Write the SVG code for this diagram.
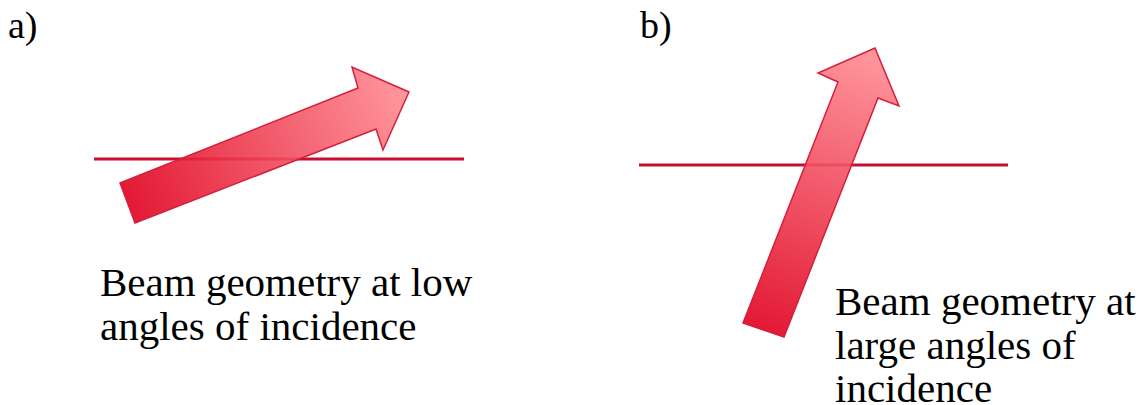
<svg xmlns="http://www.w3.org/2000/svg" width="1148" height="405" viewBox="0 0 1148 405">
<style>
.t{font-family:'Liberation Serif','Tinos','Times New Roman','DejaVu Serif',serif;font-size:41px;fill:#000}
.lbl{font-family:'Liberation Serif','Tinos','Times New Roman','DejaVu Serif',serif;font-size:38px;fill:#000}
.surf{stroke:#C8102E;stroke-width:3;fill:none}
.arr{stroke:#D41F3C;stroke-width:1.5;stroke-linejoin:miter;fill-opacity:0.9}
</style>
<defs>
<linearGradient id="ga" gradientUnits="userSpaceOnUse" x1="127" y1="203" x2="405" y2="95">
<stop offset="0" stop-color="#E0001E"/>
<stop offset="1" stop-color="#FF8A92"/>
</linearGradient>
<linearGradient id="gb" gradientUnits="userSpaceOnUse" x1="763" y1="330" x2="872" y2="55">
<stop offset="0" stop-color="#E0001E"/>
<stop offset="1" stop-color="#FF8A92"/>
</linearGradient>
</defs>
<g id="label-a"><text class="lbl" x="8" y="38" font-family="Liberation Serif, serif">a)</text></g>
<g id="label-b"><text class="lbl" x="640" y="38" font-family="Liberation Serif, serif">b)</text></g>
<g id="connectors">
<line class="surf" x1="94" y1="159" x2="464" y2="159"/>
<line class="surf" x1="639" y1="165" x2="1008" y2="165"/>
</g>
<g id="beam-a">
<polygon class="arr" fill="url(#ga)" points="135,223 120,183 358,88 352,67 409,92 383,150 376,129"/>
</g>
<g id="beam-b">
<polygon class="arr" fill="url(#gb)" points="743,323 784,337 878,98 899,106 875,48 818,73 838,82"/>
</g>
<g id="caption-a" font-family="Liberation Serif, serif">
<text class="t" x="100" y="296">Beam geometry at low</text>
<text class="t" x="100" y="340">angles of incidence</text>
</g>
<g id="caption-b" font-family="Liberation Serif, serif">
<text class="t" x="835" y="315">Beam geometry at</text>
<text class="t" x="835" y="359">large angles of</text>
<text class="t" x="835" y="402">incidence</text>
</g>
</svg>
